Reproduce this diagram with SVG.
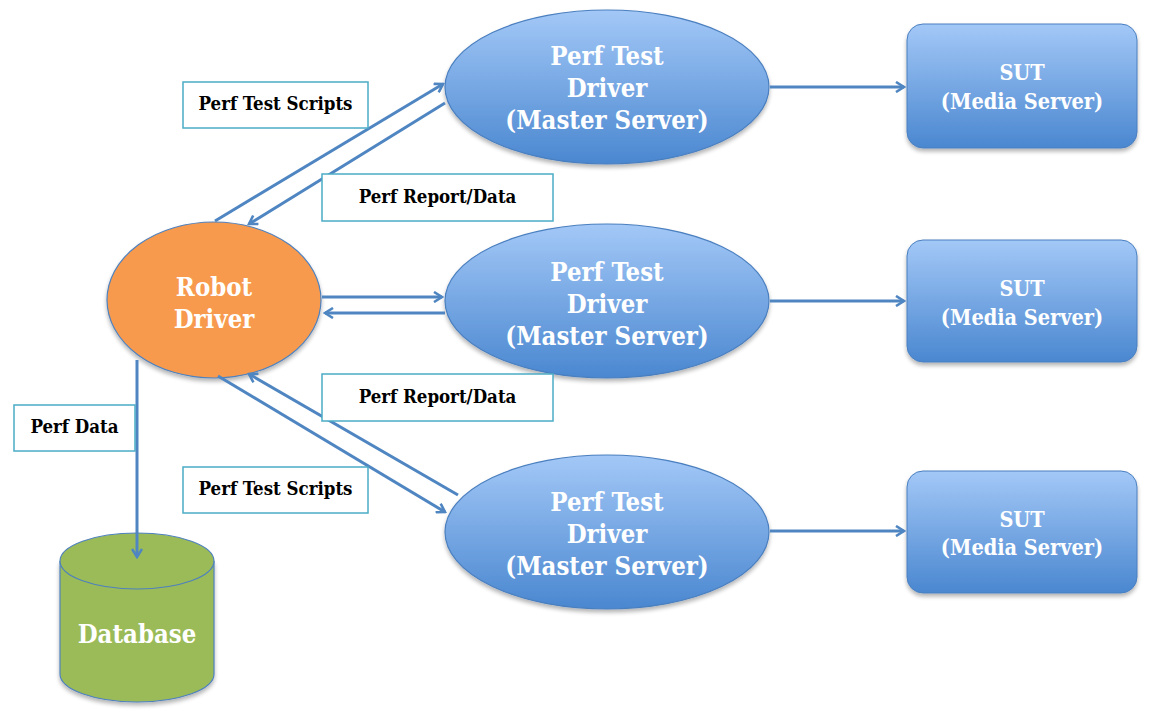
<svg xmlns="http://www.w3.org/2000/svg" width="1155" height="717" viewBox="0 0 1155 717">
<defs>
<linearGradient id="blue" x1="0" y1="0" x2="0" y2="1">
<stop offset="0" stop-color="#a3c8f7"/>
<stop offset="1" stop-color="#4a87d0"/>
</linearGradient>
<filter id="sh" x="-10%" y="-10%" width="120%" height="130%">
<feGaussianBlur in="SourceAlpha" stdDeviation="2"/>
<feOffset dx="0" dy="3" result="b"/>
<feComponentTransfer><feFuncA type="linear" slope="0.3"/></feComponentTransfer>
<feMerge><feMergeNode/><feMergeNode in="SourceGraphic"/></feMerge>
</filter>
<marker id="arr" viewBox="0 0 12 12" refX="10" refY="6" markerWidth="12" markerHeight="12" markerUnits="userSpaceOnUse" orient="auto">
<polyline points="2,1 10,6 2,11" fill="none" stroke="#4f86c2" stroke-width="2.6" stroke-linejoin="miter"/>
</marker>
</defs>
<style>
.ptd{fill:url(#blue);stroke:#4a7fbf;stroke-width:1.2;filter:url(#sh)}
.sut{fill:url(#blue);stroke:#4a7fbf;stroke-width:1;filter:url(#sh)}
.nt{font-family:"DejaVu Serif Condensed","DejaVu Serif",serif;font-stretch:condensed;font-weight:bold;fill:#ffffff;text-anchor:middle}
.big{font-size:25.5px}
.mid{font-size:21.5px}
.lbl rect{fill:#ffffff;stroke:#4bacc6;stroke-width:1.5}
.lbl text{font-family:"DejaVu Serif Condensed","DejaVu Serif",serif;font-stretch:condensed;font-weight:bold;font-size:18.5px;fill:#000000;text-anchor:middle}
.con line{stroke:#4f86c2;stroke-width:3;marker-end:url(#arr)}
</style>
<rect width="1155" height="717" fill="#ffffff"/>

<g id="robot">
<ellipse cx="214" cy="300" rx="107" ry="78" fill="#f79a4e" stroke="#4f81bd" stroke-width="1.2" filter="url(#sh)"/>
<text class="nt big" x="214" y="296">Robot</text>
<text class="nt big" x="214" y="328">Driver</text>
</g>

<g id="database">
<path d="M60,561 L60,674 A77,28 0 0 0 214,674 L214,561" fill="#9bbb59" stroke="#4f81bd" stroke-width="1.2" filter="url(#sh)"/>
<ellipse cx="137" cy="561" rx="77" ry="28" fill="#9bbb59" stroke="#4f81bd" stroke-width="1.2"/>
<text class="nt big" x="137" y="643">Database</text>
</g>

<g id="ptd1">
<ellipse class="ptd" cx="607" cy="87" rx="162" ry="77"/>
<text class="nt big" x="607" y="65">Perf Test</text>
<text class="nt big" x="607" y="97">Driver</text>
<text class="nt big" x="607" y="129">(Master Server)</text>
</g>
<g id="ptd2">
<ellipse class="ptd" cx="607" cy="301" rx="162" ry="77"/>
<text class="nt big" x="607" y="281">Perf Test</text>
<text class="nt big" x="607" y="313">Driver</text>
<text class="nt big" x="607" y="345">(Master Server)</text>
</g>
<g id="ptd3">
<ellipse class="ptd" cx="607" cy="532" rx="162" ry="77"/>
<text class="nt big" x="607" y="511">Perf Test</text>
<text class="nt big" x="607" y="543">Driver</text>
<text class="nt big" x="607" y="575">(Master Server)</text>
</g>

<g id="sut1">
<rect class="sut" x="907" y="24" width="230" height="124" rx="16"/>
<text class="nt mid" x="1022" y="80">SUT</text>
<text class="nt mid" x="1022" y="109">(Media Server)</text>
</g>
<g id="sut2">
<rect class="sut" x="907" y="240" width="230" height="122" rx="16"/>
<text class="nt mid" x="1022" y="296">SUT</text>
<text class="nt mid" x="1022" y="325">(Media Server)</text>
</g>
<g id="sut3">
<rect class="sut" x="907" y="471" width="230" height="122" rx="16"/>
<text class="nt mid" x="1022" y="527">SUT</text>
<text class="nt mid" x="1022" y="555">(Media Server)</text>
</g>

<g id="connectors" class="con">
<line x1="215" y1="221" x2="443" y2="84"/>
<line x1="445" y1="103" x2="249" y2="224"/>
<line x1="322" y1="297" x2="442" y2="297"/>
<line x1="445" y1="313" x2="325" y2="313"/>
<line x1="458" y1="495" x2="249" y2="374"/>
<line x1="218" y1="376" x2="445" y2="512"/>
<line x1="137" y1="360" x2="137" y2="557"/>
<line x1="770" y1="87" x2="904" y2="87"/>
<line x1="770" y1="301" x2="904" y2="301"/>
<line x1="770" y1="531" x2="904" y2="531"/>
</g>

<g id="label-scripts-top" class="lbl"><rect x="183" y="82" width="185" height="46"/><text x="275.5" y="110">Perf Test Scripts</text></g>
<g id="label-report-top" class="lbl"><rect x="322" y="174" width="231" height="47"/><text x="437.5" y="203">Perf Report/Data</text></g>
<g id="label-report-mid" class="lbl"><rect x="322" y="374" width="231" height="47"/><text x="437.5" y="403">Perf Report/Data</text></g>
<g id="label-scripts-bot" class="lbl"><rect x="183" y="467" width="185" height="46"/><text x="275.5" y="495">Perf Test Scripts</text></g>
<g id="label-perfdata" class="lbl"><rect x="14" y="405" width="121" height="46"/><text x="74.5" y="433">Perf Data</text></g>
</svg>
